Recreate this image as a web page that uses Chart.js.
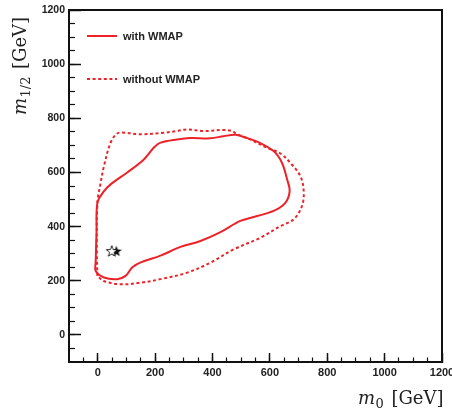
<!DOCTYPE html>
<html>
<head>
<meta charset="utf-8">
<script src="https://cdn.jsdelivr.net/npm/chart.js@4"></script>
<style>
  html, body { margin: 0; padding: 0; background: #fff; }
  #wrap { width: 452px; height: 411px; }
</style>
</head>
<body>
<div id="wrap"><canvas id="contourChart" width="452" height="411"></canvas></div>
<script>
// m0 / m1/2 contour data (GeV)
const withWmapM0 = [-4, -1, 20, 45, 103, 161, 196, 219, 277, 323, 393, 439, 480, 515, 560, 613, 642, 660, 669, 654, 613, 556, 497, 428, 358, 289, 219, 150, 121, 97, 68, 22, -7, -7, -4];
const withWmapM12 = [380, 488, 528, 556, 600, 648, 692, 710, 722, 727, 726, 734, 739, 729, 712, 679, 636, 575, 531, 488, 458, 439, 421, 380, 347, 325, 293, 268, 250, 218, 206, 212, 236, 270, 380];

const noWmapM0 = [-1, -3, -1, 10, 22, 45, 68, 92, 150, 231, 277, 312, 370, 439, 468, 486, 532, 590, 637, 671, 706, 718, 712, 683, 637, 567, 474, 393, 312, 219, 150, 80, 21, -1];
const noWmapM12 = [218, 300, 488, 560, 624, 710, 744, 747, 741, 747, 753, 759, 753, 757, 753, 741, 722, 691, 670, 636, 587, 531, 476, 427, 402, 359, 316, 267, 230, 206, 193, 187, 199, 218];

// benchmark points
const openStar = [49, 310];
const filledStar = [65, 310];

const seriesLabels = ['with WMAP', 'without WMAP'];
const axisMin = -100;
const axisMax = 1200;

const red = 'rgb(236, 34, 40)';

function toPoints(xs, ys) {
    return xs.map((x, i) => ({ x: x, y: ys[i] }));
}

function makeStar(filled) {
    const c = document.createElement('canvas');
    c.width = 14;
    c.height = 14;
    const g = c.getContext('2d');
    g.beginPath();
    for (let i = 0; i < 10; i++) {
        const r = i % 2 === 0 ? 5.8 : 2.4;
        const a = -Math.PI / 2 + i * Math.PI / 5;
        const px = 7 + r * Math.cos(a);
        const py = 7.5 + r * Math.sin(a);
        if (i === 0) g.moveTo(px, py); else g.lineTo(px, py);
    }
    g.closePath();
    if (filled) {
        g.fillStyle = '#111';
        g.fill();
    } else {
        g.fillStyle = '#fff';
        g.fill();
        g.strokeStyle = '#111';
        g.lineWidth = 0.9;
        g.stroke();
    }
    return c;
}

// keep only ticks we want
function keepTicks(step, dropEnds) {
    return function(scale) {
        scale.ticks = scale.ticks.filter(t => {
            if (Math.abs(t.value % step) > 1e-6) return false;
            if (dropEnds && (t.value === axisMin || t.value === axisMax)) return false;
            return true;
        });
    };
}

function plainLabel(value) {
    return String(value);
}

// frame on top/right, legend and axis titles
const decorPlugin = {
    id: 'decor',
    afterDraw(chart) {
        const ctx = chart.ctx;
        const a = chart.chartArea;
        ctx.save();
        ctx.strokeStyle = '#111';
        ctx.lineWidth = 2;
        ctx.beginPath();
        ctx.moveTo(a.left, a.top);
        ctx.lineTo(a.right, a.top);
        ctx.lineTo(a.right, a.bottom);
        ctx.stroke();

        // legend
        const ds = chart.data.datasets;
        const rows = [36, 79];
        rows.forEach((y, i) => {
            ctx.strokeStyle = ds[i].borderColor;
            ctx.lineWidth = ds[i].borderWidth;
            ctx.setLineDash(ds[i].borderDash || []);
            ctx.beginPath();
            ctx.moveTo(87, y);
            ctx.lineTo(117, y);
            ctx.stroke();
            ctx.setLineDash([]);
            ctx.fillStyle = '#222';
            ctx.font = 'bold 11px "Liberation Sans"';
            ctx.textBaseline = 'middle';
            ctx.textAlign = 'left';
            ctx.fillText(ds[i].label, 123, y + 0.5);
        });

        // x title: m_0 [GeV]
        ctx.fillStyle = '#222';
        ctx.textBaseline = 'alphabetic';
        drawTitle(ctx, '0', 18, 443, 404, false);

        // y title: m_{1/2} [GeV]
        ctx.save();
        ctx.translate(26, 115);
        ctx.rotate(-Math.PI / 2);
        drawTitle(ctx, '1/2', 18, 0, 0, true);
        ctx.restore();
        ctx.restore();
    }
};

function drawTitle(ctx, sub, size, x, y, fromLeft) {
    const mFont = 'italic ' + size + 'px "DejaVu Serif"';
    const subFont = Math.round(size * 0.7) + 'px "DejaVu Serif"';
    const unitFont = size + 'px "DejaVu Serif"';
    const unit = '[GeV]';
    ctx.font = mFont;
    const wm = ctx.measureText('m').width;
    ctx.font = subFont;
    const ws = ctx.measureText(sub).width;
    ctx.font = unitFont;
    const wu = ctx.measureText(unit).width;
    const gap = size * 0.42;
    const total = wm + ws + gap + wu;
    let cx = fromLeft ? x : x - total;
    ctx.textAlign = 'left';
    ctx.font = mFont;
    ctx.fillText('m', cx, y);
    cx += wm + 0.5;
    ctx.font = subFont;
    ctx.fillText(sub, cx, y + size * 0.2);
    cx += ws + gap;
    ctx.font = unitFont;
    ctx.fillText(unit, cx, y);
}

const ctx = document.getElementById('contourChart');

new Chart(ctx, {
    type: 'scatter',
    data: {
        datasets: [{
            label: seriesLabels[0],
            data: toPoints(withWmapM0, withWmapM12),
            showLine: true,
            borderColor: red,
            borderWidth: 2,
            tension: 0.35,
            pointRadius: 0
        }, {
            label: seriesLabels[1],
            data: toPoints(noWmapM0, noWmapM12),
            showLine: true,
            borderColor: red,
            borderWidth: 2,
            borderDash: [3, 2.6],
            tension: 0.35,
            pointRadius: 0
        }, {
            label: 'open star',
            data: [{ x: openStar[0], y: openStar[1] }],
            pointStyle: makeStar(false),
            pointRadius: 7
        }, {
            label: 'filled star',
            data: [{ x: filledStar[0], y: filledStar[1] }],
            pointStyle: makeStar(true),
            pointRadius: 7
        }]
    },
    options: {
        responsive: false,
        animation: false,
        layout: { padding: { left: 0, top: 10, right: 10, bottom: 0 } },
        plugins: {
            legend: { display: false },
            tooltip: { enabled: false }
        },
        scales: {
            x: {
                type: 'linear',
                position: 'bottom',
                weight: 1,
                min: axisMin,
                max: axisMax,
                afterBuildTicks: keepTicks(200, false),
                afterFit: function(scale) { scale.height = 49; scale.paddingLeft = 0; scale.paddingRight = 0; },
                ticks: { stepSize: 200, includeBounds: false, callback: plainLabel, font: { family: 'Liberation Sans', size: 11, weight: 'bold' }, color: '#222', padding: 13, maxRotation: 0, autoSkip: false },
                grid: { drawOnChartArea: false, tickLength: -9, tickWidth: 1.5, tickColor: '#111' },
                border: { display: true, color: '#111', width: 2 }
            },
            xMinor: {
                type: 'linear',
                position: 'bottom',
                weight: 0,
                min: axisMin,
                max: axisMax,
                afterBuildTicks: keepTicks(50, true),
                afterFit: function(scale) { scale.height = 0; scale.paddingLeft = 0; scale.paddingRight = 0; },
                ticks: { stepSize: 50, display: false, autoSkip: false },
                grid: { drawOnChartArea: false, tickLength: -4.5, tickWidth: 1.2, tickColor: '#111' },
                border: { display: false }
            },
            y: {
                type: 'linear',
                position: 'left',
                weight: 1,
                min: axisMin,
                max: axisMax,
                afterBuildTicks: keepTicks(200, false),
                afterFit: function(scale) { scale.width = 69; scale.paddingTop = 0; scale.paddingBottom = 0; },
                ticks: { stepSize: 200, includeBounds: false, callback: plainLabel, font: { family: 'Liberation Sans', size: 10.5, weight: 'bold' }, color: '#222', padding: 16, autoSkip: false },
                grid: { drawOnChartArea: false, tickLength: -12, tickWidth: 1.5, tickColor: '#111' },
                border: { display: true, color: '#111', width: 2 }
            },
            yMinor: {
                type: 'linear',
                position: 'left',
                weight: 0,
                min: axisMin,
                max: axisMax,
                afterBuildTicks: keepTicks(50, true),
                afterFit: function(scale) { scale.width = 0; scale.paddingTop = 0; scale.paddingBottom = 0; },
                ticks: { stepSize: 50, display: false, autoSkip: false },
                grid: { drawOnChartArea: false, tickLength: -6, tickWidth: 1.2, tickColor: '#111' },
                border: { display: false }
            }
        }
    },
    plugins: [decorPlugin]
});
</script>
</body>
</html>
